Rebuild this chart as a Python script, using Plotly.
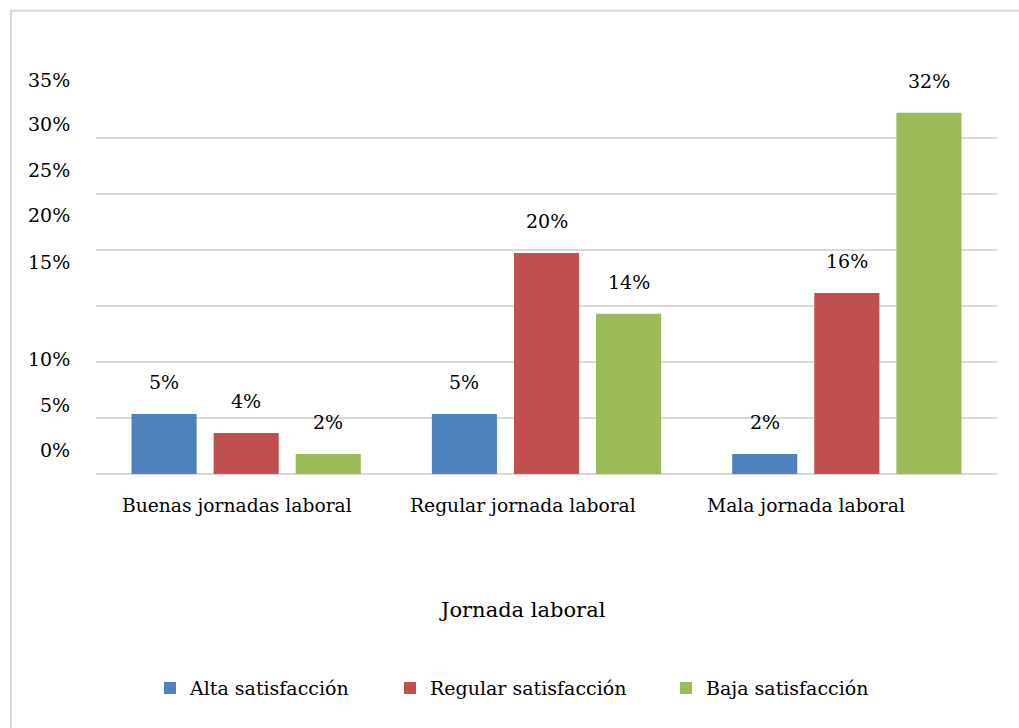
import plotly.graph_objects as go

categories = ["Buenas jornadas laboral", "Regular jornada laboral", "Mala jornada laboral"]
series_names = ["Alta satisfacción", "Regular satisfacción", "Baja satisfacción"]
alta = [0.0536, 0.0536, 0.0179]
regular = [0.0366, 0.1973, 0.1616]
baja = [0.0179, 0.1429, 0.3223]
ytick_labels = ["35%", "30%", "25%", "20%", "15%", "10%", "5%", "0%"]
x_title = "Jornada laboral"

colors = ["#4F81BD", "#C0504D", "#9BBB59"]
FONT = "DejaVu Serif"
BLACK = "#000000"

# layout geometry (pixels)
W, H = 1019, 728
plot_left, plot_right = 96, 997
plot_bottom = 474
y_max = 0.34
px_per_unit = 56 / 0.05
plot_top = plot_bottom - y_max * px_per_unit
plot_h = plot_bottom - plot_top
plot_w = plot_right - plot_left

def py(pix):
    return (plot_bottom - pix) / plot_h

def px(pix):
    return (pix - plot_left) / plot_w

legend_ids = ["legend", "legend2", "legend3"]
fig = go.Figure()
for name, vals, col, lg in zip(series_names, [alta, regular, baja], colors, legend_ids):
    fig.add_trace(go.Bar(x=categories, y=vals, name=name, marker_color=col,
                         marker_line_width=0, legend=lg))

annotations = []
# data labels above bars
for k, vals in enumerate([alta, regular, baja]):
    for i, v in enumerate(vals):
        annotations.append(dict(
            x=i + (k - 1) * 0.2733, xref="x", y=v, yref="y",
            text=f"{round(v*100):d}%", showarrow=False, yanchor="middle",
            yshift=32, font=dict(family=FONT, size=19, color=BLACK)))

# y tick labels as placed in the reference
ytick_label_px = [80, 124, 170, 215, 262, 359, 405, 450]
for lab, yp in zip(ytick_labels, ytick_label_px):
    annotations.append(dict(
        x=0, xref="paper", xshift=-24, xanchor="right", y=py(yp), yref="paper",
        yanchor="middle", text=lab, showarrow=False,
        font=dict(family=FONT, size=19, color=BLACK)))

# category labels as placed in the reference
cat_label_px = [237, 523, 806]
for lab, xp in zip(categories, cat_label_px):
    annotations.append(dict(
        x=px(xp), xref="paper", xanchor="center", y=py(505), yref="paper",
        yanchor="middle", text=lab, showarrow=False,
        font=dict(family=FONT, size=18.7, color=BLACK)))

# axis title
annotations.append(dict(
    x=px(522), xref="paper", xanchor="center", y=py(610), yref="paper",
    yanchor="middle", text=x_title, showarrow=False,
    font=dict(family=FONT, size=21, color=BLACK)))

shapes = [dict(type="rect", xref="paper", yref="paper",
               x0=px(11), x1=px(W + 20), y0=py(11), y1=py(H + 20),
               line=dict(color="#D9D9D9", width=2), fillcolor="rgba(0,0,0,0)",
               layer="below")]

legend_marker_px = [164, 404, 680]
legend_layouts = {}
for lg, mx in zip(legend_ids, legend_marker_px):
    legend_layouts[lg] = dict(
        orientation="h", x=px(mx - 14), xanchor="left", y=py(688), yanchor="middle",
        font=dict(family=FONT, size=19, color=BLACK), bgcolor="rgba(0,0,0,0)")

fig.update_layout(
    width=W, height=H,
    margin=dict(l=plot_left, r=W - plot_right, t=plot_top, b=H - plot_bottom, autoexpand=False),
    paper_bgcolor="white", plot_bgcolor="white",
    barmode="group", bargap=0.18, bargroupgap=0.207,
    font=dict(family=FONT, size=19, color=BLACK),
    annotations=annotations, shapes=shapes,
    showlegend=True,
    xaxis=dict(showline=False, ticks="", showticklabels=False),
    yaxis=dict(range=[0, y_max], dtick=0.05, showticklabels=False,
               gridcolor="#D9D9D9", gridwidth=2, zeroline=True,
               zerolinecolor="#D9D9D9", zerolinewidth=2, showline=False),
    **legend_layouts,
)

fig.write_html("out.html")
